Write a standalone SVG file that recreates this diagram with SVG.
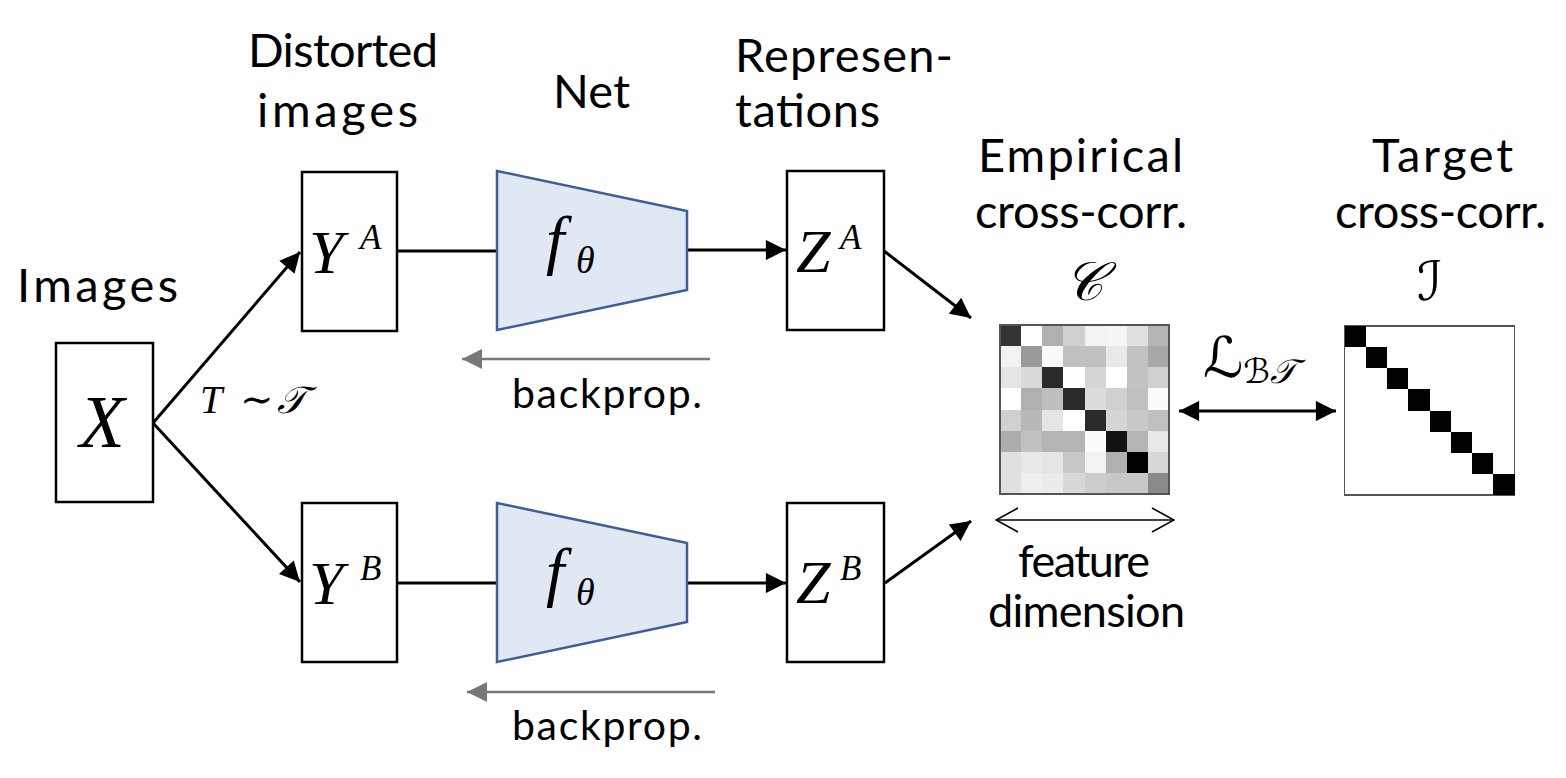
<svg xmlns="http://www.w3.org/2000/svg" width="1566" height="778" viewBox="0 0 1566 778">
<style>
.lbl{font-family:Lato,"Noto Sans",sans-serif;font-size:47px;fill:#000}
.sm{font-size:45px}
.bp{font-family:Lato,"Noto Sans",sans-serif;font-size:41px;fill:#000}
.m{font-family:"Liberation Serif","DejaVu Serif",serif;font-style:italic;fill:#000}
.cal{font-family:"DejaVu Sans","Noto Sans",serif;fill:#000}
.box{fill:#fff;stroke:#000;stroke-width:2.5}
.trap{fill:#dfe8f3;stroke:#3f5d99;stroke-width:2.5}
.conn{stroke:#000;stroke-width:3;fill:none}
.bpl{stroke:#777;stroke-width:2.5;fill:none}
.thin{stroke:#000;stroke-width:1.6;fill:none}
</style>
<defs>
<marker id="ah" viewBox="0 0 10 10" refX="10" refY="5" markerWidth="7" markerHeight="6.7" markerUnits="strokeWidth" orient="auto">
<path d="M0,0 L10,5 L0,10 z" fill="#000"/>
</marker>
<marker id="ahs" viewBox="0 0 10 10" refX="0" refY="5" markerWidth="7" markerHeight="6.7" markerUnits="strokeWidth" orient="auto">
<path d="M10,0 L0,5 L10,10 z" fill="#000"/>
</marker>
<marker id="ahg" viewBox="0 0 10 10" refX="10" refY="5" markerWidth="8" markerHeight="8" markerUnits="strokeWidth" orient="auto">
<path d="M0,0 L10,5 L0,10 z" fill="#777"/>
</marker>
<marker id="open" viewBox="0 0 24 26" refX="23" refY="13" markerWidth="24" markerHeight="26" markerUnits="userSpaceOnUse" orient="auto">
<path d="M1,1 L23,13 L1,25" fill="none" stroke="#000" stroke-width="1.6"/>
</marker>
<marker id="opens" viewBox="0 0 24 26" refX="1" refY="13" markerWidth="24" markerHeight="26" markerUnits="userSpaceOnUse" orient="auto">
<path d="M23,1 L1,13 L23,25" fill="none" stroke="#000" stroke-width="1.6"/>
</marker>
</defs>

<g id="labels">
<text class="lbl" x="17" y="302" textLength="161">Images</text>
<text class="lbl" x="248" y="67" textLength="190">Distorted</text>
<text class="lbl" x="257" y="127" textLength="161">images</text>
<text class="lbl" x="553" y="108" textLength="77">Net</text>
<text class="lbl" x="735" y="72" textLength="218">Represen-</text>
<text class="lbl" x="735" y="127" textLength="145">tations</text>
<text class="lbl" x="978" y="172" textLength="205">Empirical</text>
<text class="lbl" x="975" y="228" textLength="212">cross-corr.</text>
<text class="lbl" x="1372" y="172" textLength="141">Target</text>
<text class="lbl" x="1335" y="228" textLength="211">cross-corr.</text>
<text class="cal" x="1083" y="300" font-size="54" text-anchor="middle" font-style="italic">𝒞</text>
<text class="cal" x="1430" y="300" font-size="54" text-anchor="middle" font-style="italic">ℐ</text>
<text class="m" x="200" y="413" font-size="40">T</text>
<text class="m" x="240" y="413" font-size="40" font-style="normal">∼</text>
<text class="cal" x="277" y="413" font-size="38" font-style="italic">𝒯</text>
<text class="cal" x="1203" y="377" font-size="56" font-style="italic">ℒ<tspan font-size="34" dy="6">ℬ𝒯</tspan></text>
<text class="lbl sm" x="1018" y="577" textLength="132">feature</text>
<text class="lbl sm" x="988" y="627" textLength="197">dimension</text>
<text class="bp" x="512" y="408" textLength="190">backprop.</text>
<text class="bp" x="512" y="740" textLength="190">backprop.</text>
</g>

<g id="connectors">
<path class="conn" d="M153,423 L300,252" marker-end="url(#ah)"/>
<path class="conn" d="M153,423 L300,582" marker-end="url(#ah)"/>
<path class="conn" d="M397,251 L497,251"/>
<path class="conn" d="M397,583 L497,583"/>
<path class="conn" d="M687,250 L786,250" marker-end="url(#ah)"/>
<path class="conn" d="M687,583 L786,583" marker-end="url(#ah)"/>
<path class="conn" d="M884,251 L971,318" marker-end="url(#ah)"/>
<path class="conn" d="M885,583 L971,521" marker-end="url(#ah)"/>
<path class="conn" d="M1179,411 L1336,411" marker-start="url(#ahs)" marker-end="url(#ah)"/>
<path class="bpl" d="M710,359 L462,359" marker-end="url(#ahg)"/>
<path class="bpl" d="M715,692 L467,692" marker-end="url(#ahg)"/>
<path class="thin" d="M996,520 L1174,520" marker-start="url(#opens)" marker-end="url(#open)"/>
</g>

<g id="node-X">
<rect class="box" x="56" y="343" width="97" height="159"/>
<text class="m" x="102" y="447" font-size="74" text-anchor="middle">X</text>
</g>
<g id="node-YA">
<rect class="box" x="302" y="172" width="95" height="159"/>
<text class="m" x="309" y="273" font-size="62">Y</text>
<text class="m" x="360" y="249" font-size="35">A</text>
</g>
<g id="node-YB">
<rect class="box" x="302" y="503" width="95" height="159"/>
<text class="m" x="309" y="604" font-size="62">Y</text>
<text class="m" x="360" y="580" font-size="35">B</text>
</g>
<g id="node-netA">
<path class="trap" d="M497,171 L687,211 L687,290 L497,330 Z"/>
<text class="m" x="546" y="262" font-size="66">f</text>
<text class="m" x="576" y="273" font-size="38">θ</text>
</g>
<g id="node-netB">
<path class="trap" d="M497,503 L687,543 L687,622 L497,662 Z"/>
<text class="m" x="546" y="594" font-size="66">f</text>
<text class="m" x="576" y="605" font-size="38">θ</text>
</g>
<g id="node-ZA">
<rect class="box" x="787" y="171" width="97" height="159"/>
<text class="m" x="796" y="272" font-size="62">Z</text>
<text class="m" x="840" y="249" font-size="35">A</text>
</g>
<g id="node-ZB">
<rect class="box" x="787" y="503" width="97" height="159"/>
<text class="m" x="796" y="603" font-size="62">Z</text>
<text class="m" x="840" y="580" font-size="35">B</text>
</g>

<g id="node-C" shape-rendering="crispEdges">
<g transform="translate(1000,325) scale(21.125)">
<rect x="0" y="0" width="1" height="1" fill="#333"/><rect x="1" y="0" width="1" height="1" fill="#fff"/><rect x="2" y="0" width="1" height="1" fill="#b0b0b0"/><rect x="3" y="0" width="1" height="1" fill="#d0d0d0"/><rect x="4" y="0" width="1" height="1" fill="#f2f2f2"/><rect x="5" y="0" width="1" height="1" fill="#f5f5f5"/><rect x="6" y="0" width="1" height="1" fill="#e0e0e0"/><rect x="7" y="0" width="1" height="1" fill="#b5b5b5"/>
<rect x="0" y="1" width="1" height="1" fill="#f2f2f2"/><rect x="1" y="1" width="1" height="1" fill="#9a9a9a"/><rect x="2" y="1" width="1" height="1" fill="#fafafa"/><rect x="3" y="1" width="1" height="1" fill="#c0c0c0"/><rect x="4" y="1" width="1" height="1" fill="#c0c0c0"/><rect x="5" y="1" width="1" height="1" fill="#e8e8e8"/><rect x="6" y="1" width="1" height="1" fill="#c2c2c2"/><rect x="7" y="1" width="1" height="1" fill="#a8a8a8"/>
<rect x="0" y="2" width="1" height="1" fill="#e5e5e5"/><rect x="1" y="2" width="1" height="1" fill="#dadada"/><rect x="2" y="2" width="1" height="1" fill="#2a2a2a"/><rect x="3" y="2" width="1" height="1" fill="#fff"/><rect x="4" y="2" width="1" height="1" fill="#d5d5d5"/><rect x="5" y="2" width="1" height="1" fill="#fff"/><rect x="6" y="2" width="1" height="1" fill="#c2c2c2"/><rect x="7" y="2" width="1" height="1" fill="#d0d0d0"/>
<rect x="0" y="3" width="1" height="1" fill="#fff"/><rect x="1" y="3" width="1" height="1" fill="#b0b0b0"/><rect x="2" y="3" width="1" height="1" fill="#bebebe"/><rect x="3" y="3" width="1" height="1" fill="#2a2a2a"/><rect x="4" y="3" width="1" height="1" fill="#dcdcdc"/><rect x="5" y="3" width="1" height="1" fill="#d0d0d0"/><rect x="6" y="3" width="1" height="1" fill="#c0c0c0"/><rect x="7" y="3" width="1" height="1" fill="#fcfcfc"/>
<rect x="0" y="4" width="1" height="1" fill="#d0d0d0"/><rect x="1" y="4" width="1" height="1" fill="#b8b8b8"/><rect x="2" y="4" width="1" height="1" fill="#e5e5e5"/><rect x="3" y="4" width="1" height="1" fill="#fff"/><rect x="4" y="4" width="1" height="1" fill="#2a2a2a"/><rect x="5" y="4" width="1" height="1" fill="#d5d5d5"/><rect x="6" y="4" width="1" height="1" fill="#c8c8c8"/><rect x="7" y="4" width="1" height="1" fill="#c0c0c0"/>
<rect x="0" y="5" width="1" height="1" fill="#adadad"/><rect x="1" y="5" width="1" height="1" fill="#c0c0c0"/><rect x="2" y="5" width="1" height="1" fill="#b5b5b5"/><rect x="3" y="5" width="1" height="1" fill="#b5b5b5"/><rect x="4" y="5" width="1" height="1" fill="#fcfcfc"/><rect x="5" y="5" width="1" height="1" fill="#121212"/><rect x="6" y="5" width="1" height="1" fill="#b5b5b5"/><rect x="7" y="5" width="1" height="1" fill="#e8e8e8"/>
<rect x="0" y="6" width="1" height="1" fill="#e0e0e0"/><rect x="1" y="6" width="1" height="1" fill="#e8e8e8"/><rect x="2" y="6" width="1" height="1" fill="#e5e5e5"/><rect x="3" y="6" width="1" height="1" fill="#c8c8c8"/><rect x="4" y="6" width="1" height="1" fill="#f2f2f2"/><rect x="5" y="6" width="1" height="1" fill="#b0b0b0"/><rect x="6" y="6" width="1" height="1" fill="#000"/><rect x="7" y="6" width="1" height="1" fill="#d8d8d8"/>
<rect x="0" y="7" width="1" height="1" fill="#e0e0e0"/><rect x="1" y="7" width="1" height="1" fill="#eeeeee"/><rect x="2" y="7" width="1" height="1" fill="#ebebeb"/><rect x="3" y="7" width="1" height="1" fill="#d8d8d8"/><rect x="4" y="7" width="1" height="1" fill="#cccccc"/><rect x="5" y="7" width="1" height="1" fill="#c8c8c8"/><rect x="6" y="7" width="1" height="1" fill="#c8c8c8"/><rect x="7" y="7" width="1" height="1" fill="#8a8a8a"/>
</g>
<rect x="1000" y="325" width="169" height="169" fill="none" stroke="#555" stroke-width="1.5"/>
</g>

<g id="node-I" shape-rendering="crispEdges">
<rect x="1344.5" y="326" width="170" height="169" fill="#fff" stroke="#555" stroke-width="1.5"/>
<g transform="translate(1344.5,326) scale(21.25,21.125)" fill="#000">
<rect x="0" y="0" width="1" height="1"/><rect x="1" y="1" width="1" height="1"/><rect x="2" y="2" width="1" height="1"/><rect x="3" y="3" width="1" height="1"/><rect x="4" y="4" width="1" height="1"/><rect x="5" y="5" width="1" height="1"/><rect x="6" y="6" width="1" height="1"/><rect x="7" y="7" width="1" height="1"/>
</g>
</g>
</svg>
